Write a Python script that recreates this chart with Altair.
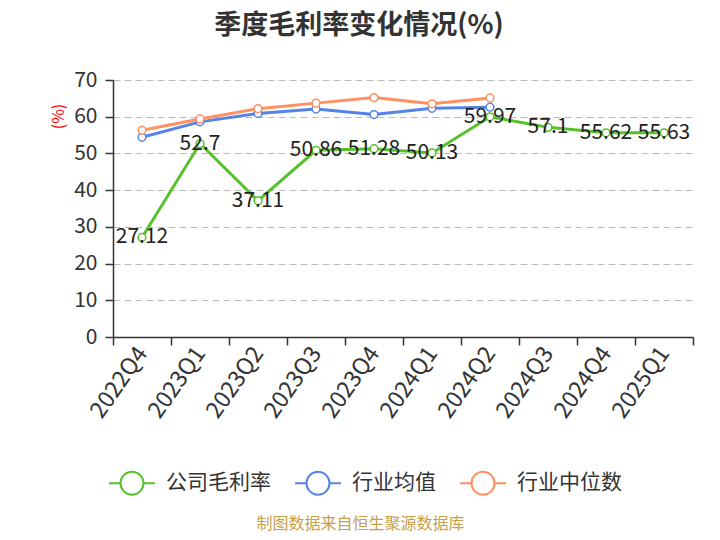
import altair as alt
import pandas as pd

quarters = ["2022Q4", "2023Q1", "2023Q2", "2023Q3", "2023Q4",
            "2024Q1", "2024Q2", "2024Q3", "2024Q4", "2025Q1"]
company = [27.12, 52.7, 37.11, 50.86, 51.28, 50.13, 59.97, 57.1, 55.62, 55.63]
ind_mean = [54.4, 58.6, 60.9, 62.1, 60.6, 62.3, 62.6]
ind_median = [56.3, 59.4, 62.2, 63.7, 65.2, 63.5, 65.1]
series_names = ["公司毛利率", "行业均值", "行业中位数"]
series_colors = ["#56C12B", "#5584E8", "#FF9060"]
y_ticks = [0, 10, 20, 30, 40, 50, 60, 70]

rows = []
for name, vals in zip(series_names, [company, ind_mean, ind_median]):
    for q, v in zip(quarters, vals):
        rows.append({"quarter": q, "series": name, "value": v, "label": str(v)})
df = pd.DataFrame(rows)

FONT = "Noto Sans CJK SC"
legend_path = "M-1,0L-0.5,0M0.5,0A0.5,0.5,0,1,1,-0.5,0A0.5,0.5,0,1,1,0.5,0M0.5,0L1,0"

color_scale = alt.Scale(domain=series_names, range=series_colors)

x_enc = alt.X(
    "quarter:N", sort=quarters, bandPosition=0.5,
    scale=alt.Scale(type="band", domain=quarters, paddingInner=0, paddingOuter=0),
    axis=alt.Axis(
        title="制图数据来自恒生聚源数据库", titleFontSize=16, titleColor="#C9A04A",
        titleFontWeight="normal", titleX=247, titleY=186, titleAlign="center",
        titleBaseline="middle", labelAngle=-55, labelFontSize=23, labelColor="#333",
        labelPadding=4, tickBand="extent", tickSize=8, tickColor="#333",
        domainColor="#333", domainWidth=1.5, tickWidth=1.5, grid=False,
    ),
)
y_enc = alt.Y(
    "value:Q", scale=alt.Scale(domain=[0, 70], nice=False),
    axis=alt.Axis(
        values=y_ticks, title="(%)", titleColor="#FF0000", titleFontSize=16,
        titleFontWeight="normal", titleAngle=-90, titleX=-55, titleY=36,
        titleAlign="center", titleBaseline="middle", labelFontSize=21,
        labelColor="#333", labelPadding=8, tickSize=8, tickColor="#333",
        tickWidth=1.5, domainColor="#333", domainWidth=1.5, gridColor="#BBBBBB",
        gridDash=[7, 4], gridWidth=1,
    ),
)

lines = alt.Chart(df).mark_line(strokeWidth=3).encode(
    x=x_enc, y=y_enc,
    color=alt.Color(
        "series:N", scale=color_scale, sort=series_names,
        legend=alt.Legend(
            orient="none", legendX=-5, legendY=379, direction="horizontal",
            title=None, symbolType=legend_path, symbolSize=2116,
            symbolStrokeWidth=2, symbolFillColor="white", labelFontSize=21,
            labelColor="#333", labelOffset=10, columnPadding=20,
        ),
    ),
    order=alt.Order("quarter:N"),
)

points = alt.Chart(df).mark_point(shape="circle", filled=False, size=60,
                                   strokeWidth=1.5, opacity=1).encode(
    x=x_enc, y=y_enc,
    stroke=alt.Stroke("series:N", scale=color_scale, legend=None),
    fill=alt.value("white"),
)

labels = alt.Chart(df).transform_filter(
    alt.datum.series == series_names[0]
).mark_text(fontSize=21, color="#222", align="center", baseline="middle").encode(
    x=x_enc, y=y_enc, text="label:N",
)

chart = alt.layer(lines, points, labels).properties(
    width=580, height=257,
    title=alt.Title("季度毛利率变化情况(%)", fontSize=27, fontWeight="bold",
                    color="#333", anchor="middle", dx=-44, offset=29, font=FONT),
    padding={"left": 105, "top": 72, "right": 19, "bottom": 195},
    autosize="none",
).configure(font=FONT).configure_view(stroke=None)

chart.save("out.html", embed_options={"renderer": "svg", "actions": False})
